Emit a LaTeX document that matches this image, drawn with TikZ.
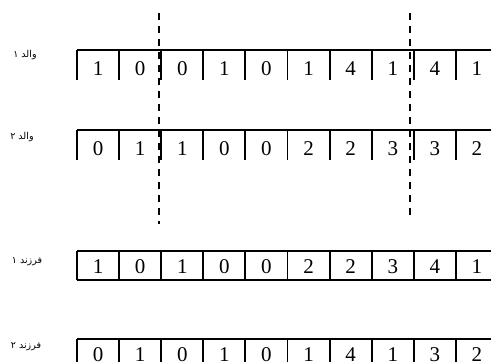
\documentclass[tikz,border=0pt]{standalone}
\usepackage{fontspec}
\setmainfont{Liberation Serif}
\newfontfamily\arabicfont[Script=Arabic]{DejaVu Sans}
\TeXXeTstate=1
\tikzset{
    box/.style={line width=1.9pt},
    digit/.style={anchor=base, inner sep=0pt, font=\fontsize{21}{21}\selectfont},
    tag/.style={inner sep=0pt, font=\arabicfont\fontsize{9.5}{11}\selectfont},
    cutline/.style={line width=2.8pt, dash pattern=on 7pt off 6pt}
}
\begin{document}
\begin{tikzpicture}[x=1pt, y=-1pt]
    \useasboundingbox (0,0) rectangle (491,362);
    % rows: top / height of separators / baseline / genes
    \foreach \ry/\rh/\rb/\vals [count=\r] in {
        50/30/75/{1,0,0,1,0,1,4,1,4,1},
        130/30/155/{0,1,1,0,0,2,2,3,3,2},
        251/29/273/{1,0,1,0,0,2,2,3,4,1},
        339/29/361/{0,1,0,1,0,1,4,1,3,2}} {
        \draw[box] (77,\ry) -- (498,\ry);
        \foreach \k in {0,...,10}
            \draw[box] ({77+42.1*\k},\ry) -- ++(0,\rh);
        \foreach \v [count=\i] in \vals
            \node[digit] (c\r-\i) at ({77+42.1*(\i-0.5)},\rb) {\v};
    }
    % children are closed boxes
    \draw[box] (77,280) -- (498,280);
    \draw[box] (77,368) -- (498,368);
    \node[tag] (p1) at (25,55) {\beginR والد ۱\endR};
    \node[tag] (p2) at (22,137) {\beginR والد ۲\endR};
    \node[tag] (f1) at (27,262) {\beginR فرزند ۱\endR};
    \node[tag] (f2) at (26,347) {\beginR فرزند ۲\endR};
    % crossover points
    \draw[cutline] (159,13) -- (159,224);
    \draw[cutline] (410,13) -- (410,221);
\end{tikzpicture}
\end{document}
